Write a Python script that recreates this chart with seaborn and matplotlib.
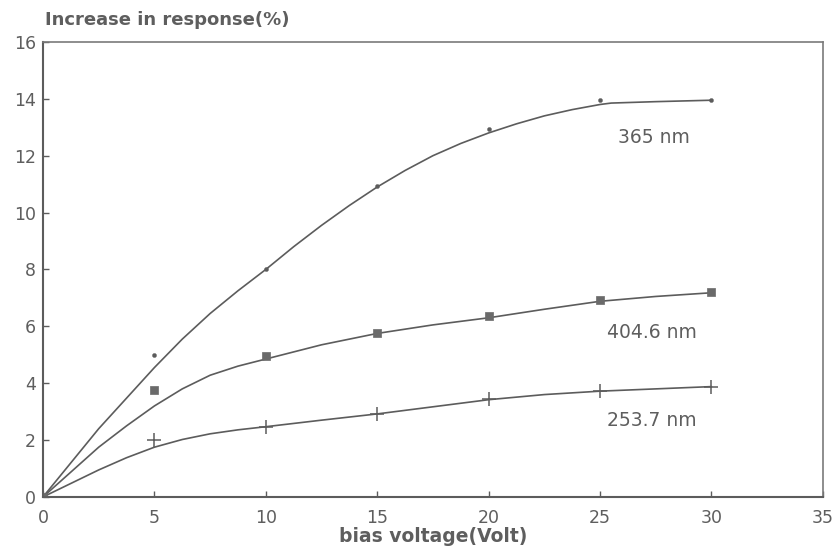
import matplotlib
matplotlib.use("Agg")
import matplotlib.pyplot as plt
import seaborn as sns
import pandas as pd

# measured points
bias_points = [0, 5, 10, 15, 20, 25, 30]
resp_365 = [0, 5.0, 8.0, 10.95, 12.95, 13.95, 13.95]
resp_4046 = [0, 3.75, 4.95, 5.75, 6.35, 6.92, 7.2]
resp_2537 = [0, 2.0, 2.45, 2.9, 3.45, 3.72, 3.88]

# smooth curves drawn through the points
curve_x_365 = [0, 2.5, 5, 6.25, 7.5, 8.75, 10, 11.25, 12.5, 13.75, 15, 16.25, 17.5,
               18.75, 20, 21.25, 22.5, 23.75, 25, 25.5, 27.5, 30]
curve_365 = [0, 2.4, 4.55, 5.55, 6.45, 7.25, 8.0, 8.8, 9.55, 10.25, 10.9, 11.48, 12.0,
             12.43, 12.8, 13.12, 13.4, 13.62, 13.8, 13.85, 13.9, 13.95]
curve_x_4046 = [0, 2.5, 3.75, 5, 6.25, 7.5, 8.75, 10, 12.5, 15, 17.5, 20, 22.5, 25, 27.5, 30]
curve_4046 = [0, 1.75, 2.5, 3.2, 3.8, 4.28, 4.6, 4.85, 5.35, 5.75, 6.05, 6.3, 6.6, 6.88, 7.05, 7.18]
curve_x_2537 = [0, 2.5, 3.75, 5, 6.25, 7.5, 8.75, 10, 12.5, 15, 17.5, 20, 22.5, 25, 27.5, 30]
curve_2537 = [0, 0.95, 1.38, 1.75, 2.02, 2.22, 2.36, 2.47, 2.7, 2.92, 3.17, 3.42, 3.6, 3.72, 3.8, 3.88]

labels = ["365 nm", "404.6 nm", "253.7 nm"]
label_x = [27.4, 27.35, 27.3]
label_y = [12.65, 5.79, 2.69]

x_ticks = [0, 5, 10, 15, 20, 25, 30, 35]
y_ticks = [0, 2, 4, 6, 8, 10, 12, 14, 16]

sns.set_theme(style="ticks")
plt.rcParams['font.family'] = ['DejaVu Sans']

LINE = "#5c5c5c"
TEXT = "#5e5e5e"

fig = plt.figure(figsize=(8.35, 5.59), dpi=100)
ax = fig.add_axes([0.0515, 0.111, 0.934, 0.814])

for cx, cy in [(curve_x_365, curve_365), (curve_x_4046, curve_4046), (curve_x_2537, curve_2537)]:
    df = pd.DataFrame({"x": cx, "y": cy})
    sns.lineplot(data=df, x="x", y="y", ax=ax, color=LINE, linewidth=1.2)

pts = pd.DataFrame({"x": bias_points, "a": resp_365, "b": resp_4046, "c": resp_2537})
sns.scatterplot(data=pts, x="x", y="a", ax=ax, marker="o", s=9, color=LINE, edgecolor=LINE, zorder=3)
sns.scatterplot(data=pts, x="x", y="b", ax=ax, marker="s", s=38, color="#6a6a6a", edgecolor="#6a6a6a", zorder=3)
sns.scatterplot(data=pts, x="x", y="c", ax=ax, marker="+", s=90, color=LINE, linewidth=1.1, zorder=3)

for t, lx, ly in zip(labels, label_x, label_y):
    ax.text(lx, ly, t, ha="center", va="center", fontsize=13.5, color=TEXT)

ax.set_xlim(0, 35)
ax.set_ylim(0, 16)
ax.set_xticks(x_ticks)
ax.set_yticks(y_ticks)
ax.tick_params(direction="in", length=4, width=1, colors=LINE, labelcolor=TEXT, labelsize=12.5)
ax.tick_params(axis="x", pad=9)
ax.tick_params(axis="y", pad=5)
ax.set_xlabel("bias voltage(Volt)", fontsize=13.5, color=TEXT, fontweight="bold", labelpad=0)
ax.set_ylabel("")
for side in ["left", "bottom"]:
    ax.spines[side].set_color(LINE)
    ax.spines[side].set_linewidth(1.5)
for side in ["top", "right"]:
    ax.spines[side].set_color("#7a7a7a")
    ax.spines[side].set_linewidth(1.2)
fig.text(0.054, 0.964, "Increase in response(%)", fontsize=13, color=TEXT,
         fontweight="bold", ha="left", va="center")

fig.savefig("out.png", dpi=100, facecolor="white")
